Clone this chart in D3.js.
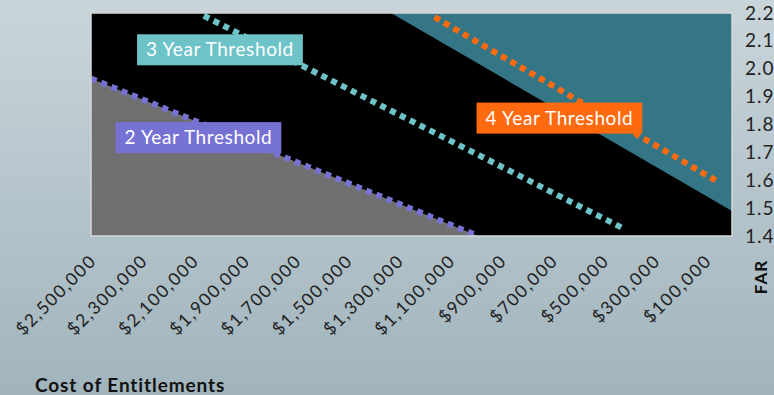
<!DOCTYPE html>
<html>
<head>
<meta charset="utf-8">
<script src="https://cdn.jsdelivr.net/npm/d3@7"></script>
<style>
  html, body { margin: 0; padding: 0; }
  body { width: 774px; height: 395px; overflow: hidden; }
  text { font-family: Lato, "Open Sans", sans-serif; }
</style>
</head>
<body>
<div id="chart"></div>
<script>
const width = 774;
const height = 395;
const margins = { top: 13, left: 91, bottom: 159, right: 42 };

// x ticks (cost of entitlements), reversed axis
const costTicks = [2500000, 2300000, 2100000, 1900000, 1700000, 1500000, 1300000,
    1100000, 900000, 700000, 500000, 300000, 100000];
const farTicks = [1.4, 1.5, 1.6, 1.7, 1.8, 1.9, 2.0, 2.1, 2.2];

// shaded regions
const grayCost = [2500000, 2500000, 990000];
const grayFar = [1.4, 1.965, 1.4];
const tealCost = [1330000, 0, 0];
const tealFar = [2.2, 1.49, 2.2];

// threshold lines
const twoYearCost = [2500000, 990000];
const twoYearFar = [1.965, 1.4];
const threeYearCost = [2060000, 430000];
const threeYearFar = [2.19, 1.43];
const fourYearCost = [1160000, 55000];
const fourYearFar = [2.185, 1.595];

const thresholds = [
    { name: '2 Year Threshold', cost: twoYearCost, far: twoYearFar, color: '#7672d4', labelCost: 2081000, labelFar: 1.753 },
    { name: '3 Year Threshold', cost: threeYearCost, far: threeYearFar, color: '#6ec3c8', labelCost: 1997000, labelFar: 2.068 },
    { name: '4 Year Threshold', cost: fourYearCost, far: fourYearFar, color: '#ff6a0e', labelCost: 673000, labelFar: 1.823 }
];

const w = width - margins.left - margins.right;
const h = height - margins.top - margins.bottom;

const svg = d3.select('#chart')
    .append('svg')
    .attr('width', width)
    .attr('height', height);

// background gradient
const defs = svg.append('defs');
const bg = defs.append('linearGradient')
    .attr('id', 'bg')
    .attr('x1', 0).attr('y1', 0).attr('x2', 0).attr('y2', 1);
bg.append('stop').attr('offset', '0%').attr('stop-color', '#c9d5db');
bg.append('stop').attr('offset', '100%').attr('stop-color', '#a1b4bc');

svg.append('rect')
    .attr('width', width)
    .attr('height', height)
    .attr('fill', 'url(#bg)');

defs.append('clipPath')
    .attr('id', 'plot-clip')
    .append('rect')
    .attr('width', w)
    .attr('height', h);

const g = svg.append('g')
    .attr('transform', `translate(${margins.left},${margins.top})`);

const x = d3.scaleLinear().domain([2500000, 0]).range([0, w]);
const y = d3.scaleLinear().domain([1.4, 2.2]).range([h, 0]);

// plot area
g.append('rect')
    .attr('width', w)
    .attr('height', h)
    .attr('fill', '#000');

const plot = g.append('g').attr('clip-path', 'url(#plot-clip)');

const area = d3.line().x(d => x(d[0])).y(d => y(d[1]));

plot.append('path')
    .attr('d', area(d3.zip(grayCost, grayFar)) + 'Z')
    .attr('fill', '#707070');

plot.append('path')
    .attr('d', area(d3.zip(tealCost, tealFar)) + 'Z')
    .attr('fill', '#347685');

// dotted threshold lines
plot.selectAll('.threshold')
    .data(thresholds)
    .enter()
    .append('path')
    .attr('class', 'threshold')
    .attr('d', d => area(d3.zip(d.cost, d.far)))
    .attr('fill', 'none')
    .attr('stroke', d => d.color)
    .attr('stroke-width', 6)
    .attr('stroke-dasharray', '6,5');

// plot border
g.append('rect')
    .attr('width', w)
    .attr('height', h)
    .attr('fill', 'none')
    .attr('stroke', '#d6d6d6')
    .attr('stroke-width', 1.5);

// labels
thresholds.forEach((d) => {
    const lg = g.append('g')
        .attr('transform', `translate(${x(d.labelCost)},${y(d.labelFar)})`);
    const box = lg.append('rect').attr('fill', d.color);
    const t = lg.append('text')
        .attr('text-anchor', 'middle')
        .attr('dy', '0.35em')
        .attr('fill', '#fff')
        .style('font-size', '19px')
        .style('letter-spacing', '0.6px')
        .text(d.name);
    const bb = t.node().getBBox();
    box.attr('x', -bb.width / 2 - 9)
        .attr('y', -15.5)
        .attr('width', bb.width + 18)
        .attr('height', 31);
});

// right y axis
const yAxis = d3.axisRight(y).tickValues(farTicks).tickFormat(d3.format('.1f')).tickSize(0).tickPadding(13);
g.append('g')
    .attr('transform', `translate(${w},0)`)
    .call(yAxis)
    .call(s => s.select('.domain').remove())
    .selectAll('text')
    .attr('fill', '#222')
    .style('font-size', '19px')
    .style('letter-spacing', '1px')
    .style('font-family', 'Lato, sans-serif');

// bottom x axis
const xAxis = d3.axisBottom(x).tickValues(costTicks).tickFormat(d => '$' + d3.format(',')(d)).tickSize(0);
g.append('g')
    .attr('transform', `translate(0,${h})`)
    .call(xAxis)
    .call(s => s.select('.domain').remove())
    .selectAll('text')
    .attr('fill', '#222')
    .attr('text-anchor', 'end')
    .attr('dy', null)
    .attr('y', 0)
    .attr('transform', 'translate(6,26) rotate(-45)')
    .style('font-size', '17.5px')
    .style('letter-spacing', '1.6px')
    .style('font-family', 'Lato, sans-serif');

// axis titles
svg.append('text')
    .attr('x', 35)
    .attr('y', 392)
    .attr('fill', '#111')
    .style('font-size', '19px')
    .style('letter-spacing', '0.9px')
    .style('font-weight', 'bold')
    .text('Cost of Entitlements');

svg.append('text')
    .attr('transform', 'translate(767,277) rotate(-90)')
    .attr('text-anchor', 'middle')
    .attr('fill', '#111')
    .style('font-size', '17px')
    .style('letter-spacing', '1px')
    .style('font-weight', 'bold')
    .text('FAR');
</script>
</body>
</html>
